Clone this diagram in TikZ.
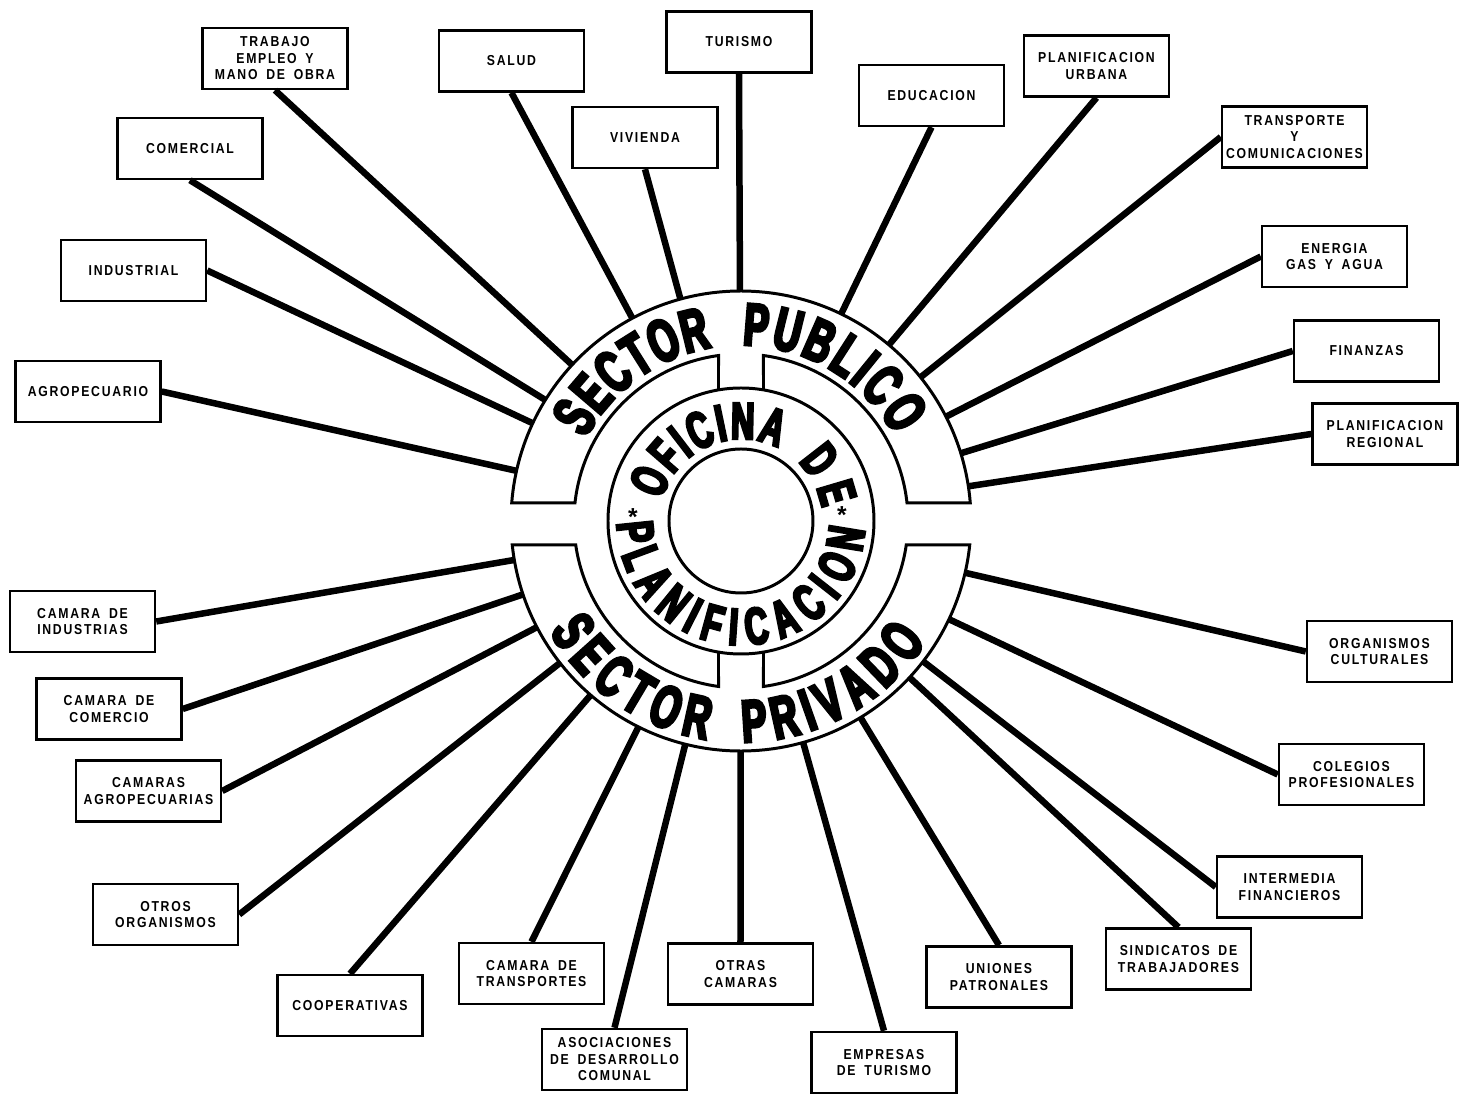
\documentclass[tikz,border=0pt]{standalone}
\usepackage{fontspec}
\setmainfont{Liberation Sans}
\newfontfamily\labelfont[LetterSpace=12, WordSpace=1.7, FakeStretch=0.85]{Liberation Sans}
\newfontfamily\ringfont[FakeStretch=0.62, FakeBold=5]{Liberation Sans}
\newcommand\sectfont{\ringfont\bfseries\fontsize{34pt}{34pt}\selectfont}
\newcommand\ofifont{\ringfont\bfseries\fontsize{29.5pt}{29.5pt}\selectfont}
\usetikzlibrary{decorations.text}

\begin{document}
\begin{tikzpicture}[
    x=0.02cm, y=0.02cm,
    box/.style={rectangle, draw, line width=1.4pt, minimum width=2.9cm, minimum height=1.22cm,
      align=center, inner sep=2pt, font=\labelfont\bfseries\fontsize{8.2pt}{9.4pt}\selectfont},
    spoke/.style={line width=3.7pt},
    ring/.style={line width=1.7pt},
    ringtext/.style={decorate, decoration={text along path, text align={fit to path}, text={#1}}}
  ]
  \useasboundingbox (-741,-580) rectangle (720,521);

  % Centre
  \node[circle, minimum size=9.2cm, inner sep=0pt] (disk) at (0,0) {};
  \draw[ring] (0,0) circle[radius=72];
  \draw[ring] (0,0) circle[radius=133];
  \draw[ring] (-22.5,131.1) -- (97.74:167) arc[start angle=97.74, end angle=173.81, radius=167]
    -- (175.51:230) arc[start angle=175.51, end angle=4.49, radius=230]
    -- (6.19:167) arc[start angle=6.19, end angle=82.26, radius=167] -- (22.5,131.1);
  \draw[ring] (-22.5,-131.1) -- (262.26:167) arc[start angle=262.26, end angle=188.26, radius=167]
    -- (185.99:230) arc[start angle=185.99, end angle=354.01, radius=230]
    -- (351.74:167) arc[start angle=351.74, end angle=277.74, radius=167] -- (22.5,-131.1);

  % Ring texts
  \path[ringtext={|\sectfont|SECTOR}] (152:176) arc[start angle=152, end angle=99.5, radius=176];
  \path[ringtext={|\sectfont|PUBLICO}] (89.5:176) arc[start angle=89.5, end angle=29, radius=176];
  \path[ringtext={|\sectfont|SECTOR}] (210:221) arc[start angle=210, end angle=261, radius=221];
  \path[ringtext={|\sectfont|PRIVADO}] (270.5:221) arc[start angle=270.5, end angle=327, radius=221];
  \path[ringtext={|\ofifont|OFICINA}] (165:82) arc[start angle=165, end angle=63, radius=82];
  \path[ringtext={|\ofifont|DE}] (46:82) arc[start angle=46, end angle=9, radius=82];
  \path[ringtext={|\ofifont|PLANIFICACION}] (181:124) arc[start angle=181, end angle=356, radius=124];
  \node[font=\bfseries\fontsize{14pt}{14pt}\selectfont] (astl) at (-108,4) {*};
  \node[font=\bfseries\fontsize{14pt}{14pt}\selectfont] (astr) at (101,6) {*};

  % Sector publico
  \node[box] (agro) at (-653,129.5) {AGROPECUARIO};
  \node[box] (indus) at (-607.5,250.5) {INDUSTRIAL};
  \node[box] (comer) at (-551,372.5) {COMERCIAL};
  \node[box] (trab) at (-466,462.5) {TRABAJO\\EMPLEO Y\\MANO DE OBRA};
  \node[box] (salud) at (-229.5,460) {SALUD};
  \node[box] (viv) at (-96,383.5) {VIVIENDA};
  \node[box] (tur) at (-2,479) {TURISMO};
  \node[box] (edu) at (190.5,425.5) {EDUCACION};
  \node[box] (purb) at (355.5,455) {PLANIFICACION\\URBANA};
  \node[box] (transp) at (553.5,384) {TRANSPORTE\\Y\\COMUNICACIONES};
  \node[box] (ener) at (593.5,264.5) {ENERGIA\\GAS Y AGUA};
  \node[box] (fin) at (625.5,170) {FINANZAS};
  \node[box] (preg) at (644,87) {PLANIFICACION\\REGIONAL};

  % Sector privado
  \node[box] (cind) at (-658.5,-100.5) {CAMARA DE\\INDUSTRIAS};
  \node[box] (ccom) at (-632,-188) {CAMARA DE\\COMERCIO};
  \node[box] (cagro) at (-592.5,-270) {CAMARAS\\AGROPECUARIAS};
  \node[box] (otros) at (-575.5,-393.5) {OTROS\\ORGANISMOS};
  \node[box] (coop) at (-391,-484.5) {COOPERATIVAS};
  \node[box] (ctrans) at (-209.5,-452.5) {CAMARA DE\\TRANSPORTES};
  \node[box] (asoc) at (-126.5,-538.5) {ASOCIACIONES\\DE DESARROLLO\\COMUNAL};
  \node[box] (otras) at (-0.5,-453) {OTRAS\\CAMARAS};
  \node[box] (emptur) at (143,-541.5) {EMPRESAS\\DE TURISMO};
  \node[box] (unio) at (258,-456) {UNIONES\\PATRONALES};
  \node[box] (sind) at (437.5,-438) {SINDICATOS DE\\TRABAJADORES};
  \node[box] (inter) at (548.5,-366) {INTERMEDIA\\FINANCIEROS};
  \node[box] (coleg) at (610.5,-253.5) {COLEGIOS\\PROFESIONALES};
  \node[box] (orgcul) at (638.5,-130.5) {ORGANISMOS\\CULTURALES};

  % Spokes
  \foreach \b/\a in {agro/east, indus/east, comer/south, trab/south, salud/south,
      viv/south, tur/south, edu/south, purb/south, transp/west, ener/west, fin/west, preg/west,
      cind/east, ccom/east, cagro/east, otros/east, coop/north, ctrans/north, asoc/north,
      otras/north, emptur/north, unio/north, sind/north, inter/west, coleg/west, orgcul/west}
    \draw[spoke] (\b.\a) -- (disk);
\end{tikzpicture}
\end{document}
